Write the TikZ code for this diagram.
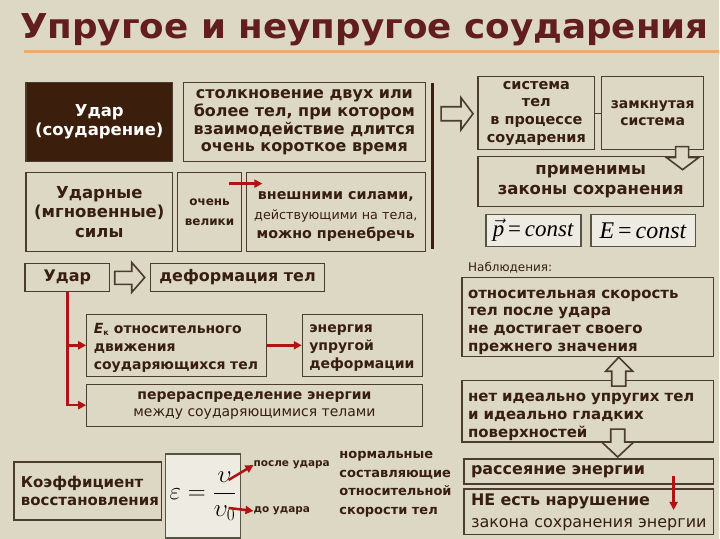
\documentclass[tikz,border=0pt]{standalone}
\usepackage{amsmath}
\usepackage[no-math]{fontspec}
\setmainfont{DejaVu Sans}
\newfontfamily\tnr{Liberation Serif}
\usetikzlibrary{arrows.meta}
\definecolor{bg}{RGB}{221,216,196}
\definecolor{titlecol}{RGB}{98,30,30}
\definecolor{rulecol}{RGB}{232,172,112}
\definecolor{txt}{RGB}{55,30,15}
\definecolor{boxline}{RGB}{75,60,45}
\definecolor{darkfill}{RGB}{60,30,12}
\definecolor{redline}{RGB}{178,18,18}
\definecolor{formfill}{RGB}{238,236,226}
\definecolor{formline}{RGB}{85,85,70}
\tikzset{
    plain box/.style={draw=boxline, line width=1.2pt, inner sep=0pt, text=txt,
        font=\bfseries\fontsize{16}{18}\selectfont},
    dark box/.style={plain box, fill=darkfill, text=white},
    light box/.style={draw=formline, line width=1.6pt, fill=formfill, inner sep=0pt},
    small text/.style={text=txt, inner sep=0pt},
    red arrow/.style={-{Triangle[length=8pt,width=8pt]}, draw=redline, line width=2.5pt},
    hollow arrow/.style={draw=boxline, line width=1.6pt, fill=bg, line join=miter}
}

\begin{document}
\begin{tikzpicture}[x=1pt,y=-1pt]
    \fill[bg] (0,0) rectangle (720,540);
    \node(title)[anchor=base west, inner sep=0pt, text=titlecol, font=\bfseries] at (20,39)
        {\resizebox{690pt}{25pt}{Упругое и неупругое соударения}};
    \draw[rulecol, line width=3pt] (24,52) -- (720,52);

    % upper left block
    \node(hit)[dark box, minimum width=147pt, minimum height=79pt, align=center,
        font=\bfseries\fontsize{16.5}{19}\selectfont] at (99.5,122.5) {Удар\\(соударение)};
    \node(collision)[plain box, minimum width=242pt, minimum height=79pt, align=center] at (305,122.5)
        {столкновение двух или\\более тел, при котором\\взаимодействие длится\\очень короткое время};
    \node(forces)[plain box, minimum width=147pt, minimum height=79pt, align=center,
        font=\bfseries\fontsize{16.5}{19.5}\selectfont] at (99.5,212.5) {Ударные\\(мгновенные)\\силы};
    \node(great)[plain box, minimum width=64pt, minimum height=79pt, align=center,
        font=\bfseries\fontsize{12}{20}\selectfont] at (210,212.5) {очень\\велики};
    \node(external)[plain box, minimum width=179pt, minimum height=79pt, align=center,
        font=\bfseries\fontsize{14.3}{19.5}\selectfont] at (336.5,212.5)
        {\rule{0pt}{17.5pt}внешними силами,\\{\mdseries\fontsize{12.8}{19}\selectfont действующими на тела,}\\можно пренебречь};
    \coordinate(f1) at (229,184);
    \coordinate(f2) at (263,184);
    \draw[red arrow] (f1) -- (f2);
    \draw[line width=3pt, darkfill] (433,83) -- (433,250);
    \draw[hollow arrow] (442,107) -- (462,107) -- (462,98) -- (474,114) -- (462,130) -- (462,121) -- (442,121) -- cycle;

    % upper right block
    \node(system)[plain box, minimum width=117pt, minimum height=73pt, align=center,
        font=\bfseries\fontsize{14.5}{17.8}\selectfont] at (537.5,113.5) {система\\тел\\в процессе\\соударения};
    \node(closed)[plain box, minimum width=102pt, minimum height=73pt, align=center,
        font=\bfseries\fontsize{14}{17}\selectfont] at (654,113.5) {замкнутая\\система};
    \draw[boxline, line width=1.2pt] (system) -- (closed);
    \node(laws)[plain box, minimum width=226pt, minimum height=50pt, align=center,
        font=\bfseries\fontsize{16.5}{19.5}\selectfont] at (592,182) {применимы\\законы сохранения};
    \draw[hollow arrow] (677,147) -- (690,147) -- (690,158) -- (700,158) -- (684,170) -- (668,158) -- (677,158) -- cycle;
    \node(momentum)[light box, minimum width=95pt, minimum height=32pt] at (534.5,231)
        {\tnr\fontsize{23}{24}\selectfont$\vec{\textit{p}}$\,=\,\textit{const}};
    \node(energy)[light box, minimum width=105pt, minimum height=32pt] at (644.5,231)
        {\tnr\fontsize{24}{24}\selectfont\textit{E}\,=\,\textit{const}};

    % observations
    \node(obs label)[small text, anchor=west, font=\fontsize{12}{14}\selectfont] at (469,268) {Наблюдения:};
    \node(relative)[plain box, minimum width=252pt, minimum height=79pt, text width=240pt, align=left,
        font=\bfseries\fontsize{15}{17.7}\selectfont] at (589,317.5)
        {\rule{0pt}{19pt}относительная скорость\\тел после удара\\не достигает своего\\прежнего значения};
    \node(nonideal)[plain box, minimum width=252pt, minimum height=62pt, text width=240pt, align=left,
        font=\bfseries\fontsize{15}{18}\selectfont] at (589,412)
        {\rule{0pt}{19pt}нет идеально упругих тел\\и идеально гладких\\поверхностей};
    \draw[hollow arrow] (613,387) -- (613,372) -- (607,372) -- (620,358) -- (634,372) -- (627,372) -- (627,387) -- cycle;
    \draw[hollow arrow] (612,430) -- (626,430) -- (626,443) -- (635,443) -- (619,458) -- (603,443) -- (612,443) -- cycle;
    \node(dissipation)[plain box, minimum width=250pt, minimum height=25pt, text width=236pt, align=left] at (590,472.5)
        {рассеяние энергии};
    \node(noviolation)[plain box, minimum width=250pt, minimum height=46pt, text width=236pt, align=left,
        font=\bfseries\fontsize{16}{22}\selectfont] at (590,513)
        {НЕ есть нарушение\\{\mdseries\fontsize{16}{22}\selectfont закона сохранения энергии}};
    \coordinate(d1) at (675,477);
    \coordinate(d2) at (675,511);
    \draw[red arrow] (d1) -- (d2);

    % lower left block
    \node(blow)[plain box, minimum width=85pt, minimum height=28pt] at (67.5,278) {Удар};
    \draw[hollow arrow] (115,272) -- (132,272) -- (132,263) -- (145,278) -- (132,293) -- (132,285) -- (115,285) -- cycle;
    \node(deform)[plain box, minimum width=174pt, minimum height=28pt] at (238,278) {деформация тел};
    \node(kinetic)[plain box, minimum width=180pt, minimum height=62pt, text width=166pt, align=left,
        font=\bfseries\fontsize{14}{18}\selectfont] at (177,346)
        {\rule{0pt}{15.5pt}\textit{E}\textsubscript{\fontsize{8}{8}\selectfont к} относительного\\движения\\соударяющихся тел};
    \node(elastic)[plain box, minimum width=120pt, minimum height=62pt, text width=106pt, align=left,
        font=\bfseries\fontsize{14}{18}\selectfont] at (363,346) {\rule{0pt}{13.5pt}энергия\\упругой\\деформации};
    \node(redistr)[plain box, minimum width=336pt, minimum height=42pt, align=center,
        font=\bfseries\fontsize{14}{17}\selectfont] at (255,406)
        {перераспределение энергии\\{\mdseries между соударяющимися телами}};
    \draw[red arrow] (blow.south) |- (redistr.west);
    \draw[red arrow] (blow.south |- kinetic.west) -- (kinetic.west);
    \draw[red arrow] (kinetic) -- (elastic);

    % restitution
    \node(coeff)[plain box, minimum width=148pt, minimum height=58pt, text width=134pt, align=left,
        font=\bfseries\fontsize{15}{18}\selectfont] at (88,492) {Коэффициент\\восстановления};
    \node(ratio)[light box, minimum width=75pt, minimum height=84pt] at (203.5,497)
        {\fontsize{26}{30}\selectfont$\varepsilon=\dfrac{\upsilon}{\upsilon_0}$};
    \node(after)[small text, anchor=west, font=\bfseries\fontsize{10.5}{12}\selectfont] at (254,466) {после удара};
    \node(before)[small text, anchor=west, font=\bfseries\fontsize{10.5}{12}\selectfont] at (254,512) {до удара};
    \coordinate(v1) at (229,481);
    \coordinate(v0) at (229,509);
    \draw[red arrow] (v1) -- (after.west);
    \draw[red arrow] (v0) -- (before.west);
    \node(normal)[small text, anchor=north west, align=left, font=\bfseries\fontsize{13}{18.7}\selectfont] at (340,452)
        {нормальные\\составляющие\\относительной\\скорости тел};
\end{tikzpicture}
\end{document}
